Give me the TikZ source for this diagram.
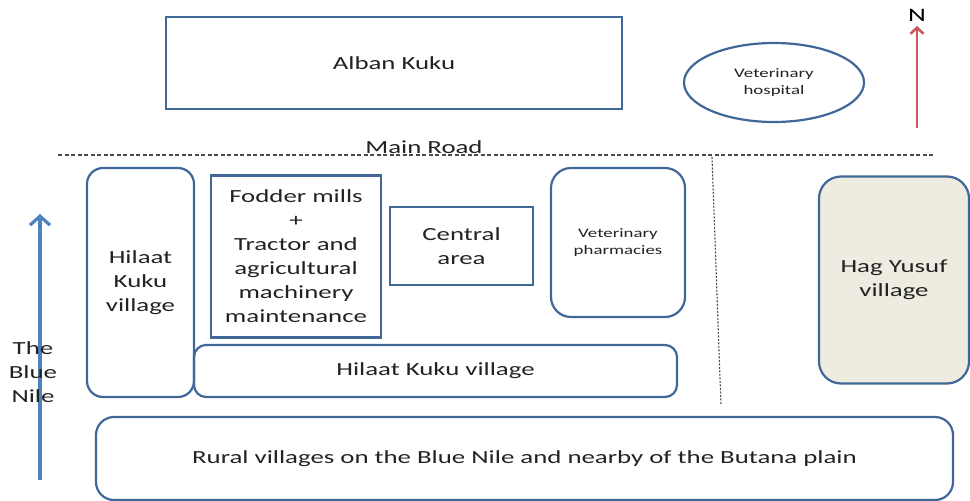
\documentclass[tikz,border=0pt]{standalone}
\usepackage{fontspec}
\setmainfont{Carlito}[FakeStretch=1.45]
\usetikzlibrary{arrows.meta,shapes.geometric}
\definecolor{boxblue}{HTML}{3F6797}
\definecolor{nileblue}{HTML}{4F81BD}
\definecolor{nred}{HTML}{C9595A}
\definecolor{beige}{HTML}{EEECE1}
\definecolor{roadgray}{HTML}{4A4A4A}
\definecolor{txt}{HTML}{222222}
\tikzset{
  area/.style={draw=boxblue, line width=2.2pt, inner sep=0pt, align=center, text=txt,
    font=\fontsize{18.5}{24}\selectfont},
  roundarea/.style={area, rounded corners=#1},
  smalltext/.style={font=\fontsize{13}{17}\selectfont},
  lbl/.style={inner sep=0pt, align=center, text=txt, font=\fontsize{18.5}{24}\selectfont},
}
\begin{document}
\begin{tikzpicture}[x=1pt,y=-1pt]
\useasboundingbox (0,0) rectangle (970,501);
% road and boundary
\coordinate (roadW) at (58,155);
\coordinate (roadE) at (933,155);
\coordinate (divT) at (712,157);
\coordinate (divB) at (721,405);
\draw[roadgray, line width=1.1pt, dash pattern=on 4pt off 2.5pt] (roadW) -- (roadE);
\draw[roadgray, line width=1.1pt, dash pattern=on 2pt off 1.5pt] (divT) -- (divB);
\node[lbl] (road) at (424,147) {Main Road};
% north
\node[lbl, text=black, font=\fontsize{19}{20}\selectfont] (N) at (917,15) {N};
\coordinate (nbase) at (917,128);
\draw[nred, line width=2.6pt, -{Straight Barb[length=6pt,width=13pt,line width=2.6pt]}] (nbase) -- (917,26);
% areas
\node[area, minimum width=456pt, minimum height=92pt] (alban) at (394,63) {Alban Kuku};
\node[ellipse, draw=boxblue, line width=2.2pt, minimum width=180pt, minimum height=79pt, inner sep=0pt, align=center, text=txt, smalltext] (hosp) at (774,82.5) {Veterinary\\hospital};
\node[roundarea=16pt, minimum width=107pt, minimum height=229pt] (hkv) at (140.5,282.5) {Hilaat\\Kuku\\village};
\node[area, minimum width=170pt, minimum height=162pt] (fodder) at (296,256.5) {Fodder mills\\+\\Tractor and\\agricultural\\machinery\\maintenance};
\node[area, minimum width=143pt, minimum height=78pt] (central) at (461.5,246) {Central\\area};
\node[roundarea=20pt, minimum width=134pt, minimum height=149pt, smalltext] (pharm) at (618,242.5) {Veterinary\\pharmacies};
\node[roundarea=12pt, minimum width=483pt, minimum height=52pt] (hkh) at (435.5,371) {Hilaat Kuku village};
\node[roundarea=22pt, fill=beige, minimum width=150pt, minimum height=207pt] (hag) at (894,280) {Hag Yusuf\\village};
\node[roundarea=18pt, minimum width=857pt, minimum height=83pt] (rural) at (524.5,458.5) {Rural villages on the Blue Nile and nearby of the Butana plain};
% the Blue Nile
\coordinate (nileS) at (40,480);
\coordinate (nileN) at (40,214);
\draw[nileblue, line width=3.2pt, -{Straight Barb[length=9pt,width=20pt,line width=3.2pt]}] (nileS) -- (nileN);
\node[lbl] (nile) at (33,372) {The\\Blue\\Nile};
\end{tikzpicture}
\end{document}
